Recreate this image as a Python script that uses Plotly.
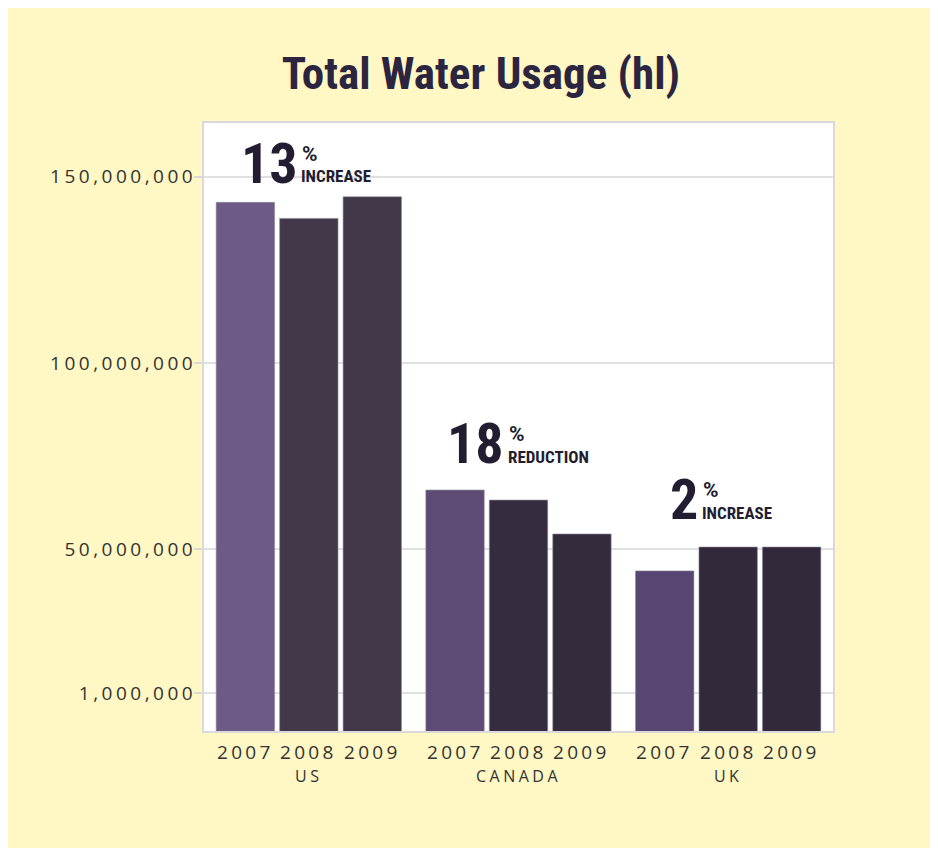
import plotly.graph_objects as go

# ---------------- data ----------------
countries = ["US", "CANADA", "UK"]
years = ["2007", "2008", "2009"]
usage_2007 = [143_100_000, 65_900_000, 44_200_000]
usage_2008 = [138_800_000, 63_200_000, 50_600_000]
usage_2009 = [144_600_000, 54_100_000, 50_600_000]
change_pct = ["13", "18", "2"]
change_word = ["INCREASE", "REDUCTION", "INCREASE"]
y_tick_values = [11_400_000, 50_000_000, 100_000_000, 150_000_000]
y_tick_labels = ["1,000,000", "50,000,000", "100,000,000", "150,000,000"]

series = [usage_2007, usage_2008, usage_2009]

# ---------------- style ----------------
W, H = 930, 840
M = dict(l=196, r=105, t=115, b=117, pad=0)
PW = W - M["l"] - M["r"]
PH = H - M["t"] - M["b"]
BARGAP = 0.092
GROUPGAP = 0.08
YELLOW = "#FFF7C4"
TEXT = "#333333"
DARK = "#221d30"
BORDER = "#d9d9d9"
COND = "Roboto Condensed, Liberation Sans Narrow, DejaVu Sans Condensed, sans-serif"
SANS = "Open Sans, Noto Sans, sans-serif"
bar_colors = [
    ["#6d5a86", "#5d4b76", "#584672"],
    ["#433849", "#362c3f", "#32293a"],
    ["#413748", "#342b3d", "#32293a"],
]
# label placement (pixels, relative to group centre / tallest bar top)
num_dx = [-10, -13.5, -29]
txt_dx = [-9, -11.5, -27.5]
num_gap = [12.8, 26, 26.8]
word_gap = [13.8, 26, 26.8]
pct_gap = [35, 48, 49]
NUM_SIZE, PCT_SIZE, WORD_SIZE = 56, 21, 17


def spaced(t, px):
    return f"<span style='letter-spacing:{px}px'>{t}</span>"


fig = go.Figure()
for yr, vals, col in zip(years, series, bar_colors):
    fig.add_trace(go.Bar(
        x=countries, y=vals, name=yr,
        marker=dict(color=col, line=dict(color="#8f889a", width=0.6)),
        hoverinfo="x+y+name",
    ))

slot_px = PW / len(countries) * (1 - BARGAP) / len(years)

annotations = []
for j, yr in enumerate(years):
    for c in countries:
        annotations.append(dict(
            x=c, xref="x", y=0, yref="paper", yanchor="top", xanchor="center",
            xshift=(j - 1) * slot_px, yshift=-6, showarrow=False,
            text=spaced(yr, 3.3), font=dict(family=SANS, size=19, color=TEXT),
        ))

for i, c in enumerate(countries):
    top = max(s[i] for s in series)
    annotations.append(dict(
        x=c, xref="x", y=top, yref="y", xanchor="right", yanchor="bottom",
        xshift=num_dx[i], yshift=num_gap[i] - 0.244 * NUM_SIZE, borderpad=0,
        showarrow=False,
        text=f"<b>{change_pct[i]}</b>", font=dict(family=COND, size=NUM_SIZE, color=DARK),
    ))
    annotations.append(dict(
        x=c, xref="x", y=top, yref="y", xanchor="left", yanchor="bottom",
        xshift=txt_dx[i] + 1, yshift=pct_gap[i] - 0.244 * PCT_SIZE, borderpad=0,
        showarrow=False,
        text="<b>%</b>", font=dict(family="Roboto, sans-serif", size=PCT_SIZE, color=DARK),
    ))
    annotations.append(dict(
        x=c, xref="x", y=top, yref="y", xanchor="left", yanchor="bottom",
        xshift=txt_dx[i], yshift=word_gap[i] - 0.244 * WORD_SIZE, borderpad=0,
        showarrow=False,
        text=f"<b>{change_word[i]}</b>", font=dict(family=COND, size=WORD_SIZE, color=DARK),
    ))

fig.update_layout(
    width=W, height=H, margin=M,
    paper_bgcolor=YELLOW, plot_bgcolor="white",
    barmode="group", bargap=BARGAP, bargroupgap=GROUPGAP,
    showlegend=False,
    title=dict(
        text="<b>Total Water Usage (hl)</b>",
        font=dict(family=COND, size=45, color="#2b2540"),
        x=473 / W, xref="container", xanchor="center",
        y=1 - 65 / H, yref="container", yanchor="middle",
    ),
    xaxis=dict(
        type="category", tickvals=countries,
        ticktext=[spaced(c, 3.5) for c in countries],
        tickfont=dict(family=SANS, size=16, color=TEXT),
        ticks="", ticklabelstandoff=30,
        showline=True, linecolor=BORDER, linewidth=2, mirror=True,
        showgrid=False, fixedrange=True,
    ),
    yaxis=dict(
        range=[1_230_000, 164_400_000],
        tickvals=y_tick_values, ticktext=[spaced(t, 3.5) for t in y_tick_labels],
        tickfont=dict(family=SANS, size=19, color=TEXT),
        ticks="outside", ticklen=8, tickcolor=BORDER, tickwidth=1.5,
        ticklabelstandoff=-6,
        showgrid=True, gridcolor="#e0e0e0", gridwidth=1.5,
        showline=True, linecolor=BORDER, linewidth=2, mirror=True,
        zeroline=False, fixedrange=True,
    ),
    annotations=annotations,
)

fig.write_html("out.html")
